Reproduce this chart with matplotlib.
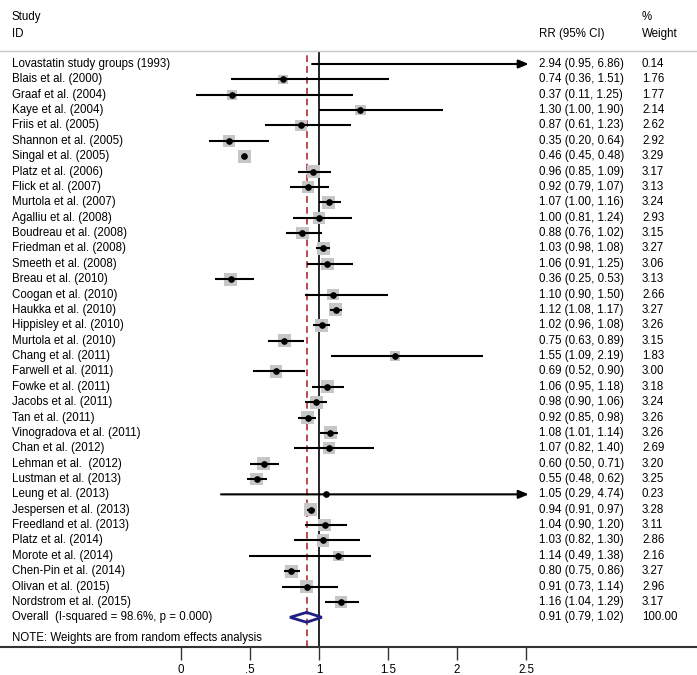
import matplotlib
matplotlib.use("Agg")
import matplotlib.pyplot as plt
from matplotlib.patches import Polygon, Rectangle

plt.rcParams['font.family'] = ['Liberation Sans', 'DejaVu Sans']

studies = ["Lovastatin study groups (1993)", "Blais et al. (2000)", "Graaf et al. (2004)",
           "Kaye et al. (2004)", "Friis et al. (2005)", "Shannon et al. (2005)",
           "Singal et al. (2005)", "Platz et al. (2006)", "Flick et al. (2007)",
           "Murtola et al. (2007)", "Agalliu et al. (2008)", "Boudreau et al. (2008)",
           "Friedman et al. (2008)", "Smeeth et al. (2008)", "Breau et al. (2010)",
           "Coogan et al. (2010)", "Haukka et al. (2010)", "Hippisley et al. (2010)",
           "Murtola et al. (2010)", "Chang et al. (2011)", "Farwell et al. (2011)",
           "Fowke et al. (2011)", "Jacobs et al. (2011)", "Tan et al. (2011)",
           "Vinogradova et al. (2011)", "Chan et al. (2012)", "Lehman et al.  (2012)",
           "Lustman et al. (2013)", "Leung et al. (2013)", "Jespersen et al. (2013)",
           "Freedland et al. (2013)", "Platz et al. (2014)", "Morote et al. (2014)",
           "Chen-Pin et al. (2014)", "Olivan et al. (2015)", "Nordstrom et al. (2015)"]
rr = [2.94, 0.74, 0.37, 1.30, 0.87, 0.35, 0.46, 0.96, 0.92, 1.07, 1.00, 0.88, 1.03, 1.06,
      0.36, 1.10, 1.12, 1.02, 0.75, 1.55, 0.69, 1.06, 0.98, 0.92, 1.08, 1.07, 0.60, 0.55,
      1.05, 0.94, 1.04, 1.03, 1.14, 0.80, 0.91, 1.16]
lower = [0.95, 0.36, 0.11, 1.00, 0.61, 0.20, 0.45, 0.85, 0.79, 1.00, 0.81, 0.76, 0.98, 0.91,
         0.25, 0.90, 1.08, 0.96, 0.63, 1.09, 0.52, 0.95, 0.90, 0.85, 1.01, 0.82, 0.50, 0.48,
         0.29, 0.91, 0.90, 0.82, 0.49, 0.75, 0.73, 1.04]
upper = [6.86, 1.51, 1.25, 1.90, 1.23, 0.64, 0.48, 1.09, 1.07, 1.16, 1.24, 1.02, 1.08, 1.25,
         0.53, 1.50, 1.17, 1.08, 0.89, 2.19, 0.90, 1.18, 1.06, 0.98, 1.14, 1.40, 0.71, 0.62,
         4.74, 0.97, 1.20, 1.30, 1.38, 0.86, 1.14, 1.29]
weights = [0.14, 1.76, 1.77, 2.14, 2.62, 2.92, 3.29, 3.17, 3.13, 3.24, 2.93, 3.15, 3.27, 3.06,
           3.13, 2.66, 3.27, 3.26, 3.15, 1.83, 3.00, 3.18, 3.24, 3.26, 3.26, 2.69, 3.20, 3.25,
           0.23, 3.28, 3.11, 2.86, 2.16, 3.27, 2.96, 3.17]
overall_label = "Overall  (I-squared = 98.6%, p = 0.000)"
overall_rr, overall_lo, overall_hi, overall_w = 0.91, 0.79, 1.02, 100.00
xticks = [0, 0.5, 1, 1.5, 2, 2.5]
xticklabels = ["0", ".5", "1", "1.5", "2", "2.5"]
clip_max = 2.52

W, H = 697, 675
fig = plt.figure(figsize=(W / 100, H / 100), dpi=100)
top_px, bot_px = 51, 647
ax = fig.add_axes([0, 1 - bot_px / H, 1, (bot_px - top_px) / H])

x0_px, px_per_unit = 181, 138.0
ax.set_xlim(-x0_px / px_per_unit, (W - x0_px) / px_per_unit)
row0_px, row_h = 64, 15.37
ax.set_ylim((bot_px - row0_px) / row_h, (top_px - row0_px) / row_h)

fs = 8.3
n = len(studies)

def xfrac(px):
    return px / W

# reference lines
ax.axvline(1, color='black', lw=1.2, zorder=1)
ax.axvline(overall_rr, color='#b22a33', lw=1.2, ls=(0, (4, 2.5)), zorder=1)

# weight squares (area proportional to weight), drawn in data units
side_max_px = 13.0
for i in range(n):
    if rr[i] > clip_max:
        continue
    side = side_max_px * (weights[i] / 3.29) ** 0.5
    wx = side / px_per_unit
    wy = side / row_h
    ax.add_patch(Rectangle((rr[i] - wx / 2, i - wy / 2), wx, wy, facecolor='#c6c6c6',
                           edgecolor='none', zorder=2))

for i in range(n):
    lo, hi = lower[i], upper[i]
    if hi > clip_max:
        ax.annotate('', xy=(clip_max, i), xytext=(lo, i),
                    arrowprops=dict(arrowstyle='-|>,head_length=0.6,head_width=0.25',
                                    lw=1.5, color='black', shrinkA=0, shrinkB=0), zorder=3)
    else:
        ax.plot([lo, hi], [i, i], color='black', lw=1.5, solid_capstyle='butt', zorder=3)

vis_x = [r for r in rr if r <= clip_max]
vis_y = [i for i, r in enumerate(rr) if r <= clip_max]
ax.plot(vis_x, vis_y, 'o', color='black', ms=3.8, zorder=4)

# overall diamond
yo = n
hd = 0.32
ax.add_patch(Polygon([(overall_lo, yo), (overall_rr, yo - hd), (overall_hi, yo), (overall_rr, yo + hd)],
                     closed=True, fill=False, edgecolor='#1f1f85', lw=2, zorder=4))

trans = ax.get_yaxis_transform()
for i in range(n):
    ax.text(xfrac(12), i, studies[i], transform=trans, fontsize=fs, va='center', ha='left')
    ax.text(xfrac(539), i, f"{rr[i]:.2f} ({lower[i]:.2f}, {upper[i]:.2f})", transform=trans,
            fontsize=fs, va='center', ha='left')
    ax.text(xfrac(642), i, f"{weights[i]:.2f}", transform=trans, fontsize=fs, va='center', ha='left')
ax.text(xfrac(12), yo, overall_label, transform=trans, fontsize=fs, va='center', ha='left')
ax.text(xfrac(539), yo, f"{overall_rr:.2f} ({overall_lo:.2f}, {overall_hi:.2f})", transform=trans,
        fontsize=fs, va='center', ha='left')
ax.text(xfrac(642), yo, f"{overall_w:.2f}", transform=trans, fontsize=fs, va='center', ha='left')
ax.text(xfrac(12), (638 - row0_px) / row_h, "NOTE: Weights are from random effects analysis",
        transform=trans, fontsize=fs, va='center', ha='left')

# header
def fy(px):
    return 1 - px / H
fig.text(xfrac(12), fy(17), "Study", fontsize=fs, va='center', ha='left')
fig.text(xfrac(12), fy(34), "ID", fontsize=fs, va='center', ha='left')
fig.text(xfrac(539), fy(34), "RR (95% CI)", fontsize=fs, va='center', ha='left')
fig.text(xfrac(642), fy(17), "%", fontsize=fs, va='center', ha='left')
fig.text(xfrac(642), fy(34), "Weight", fontsize=fs, va='center', ha='left')

# spines & ticks
for s in ['left', 'right']:
    ax.spines[s].set_visible(False)
ax.spines['top'].set_color('#c8c8c8')
ax.spines['top'].set_linewidth(1)
ax.spines['bottom'].set_color('#333333')
ax.spines['bottom'].set_linewidth(1.5)
ax.set_yticks([])
ax.set_xticks(xticks)
ax.set_xticklabels(xticklabels, fontsize=fs)
ax.tick_params(axis='x', direction='out', length=9, width=1, color='#333333', pad=3)

fig.savefig("out.png", dpi=100)
